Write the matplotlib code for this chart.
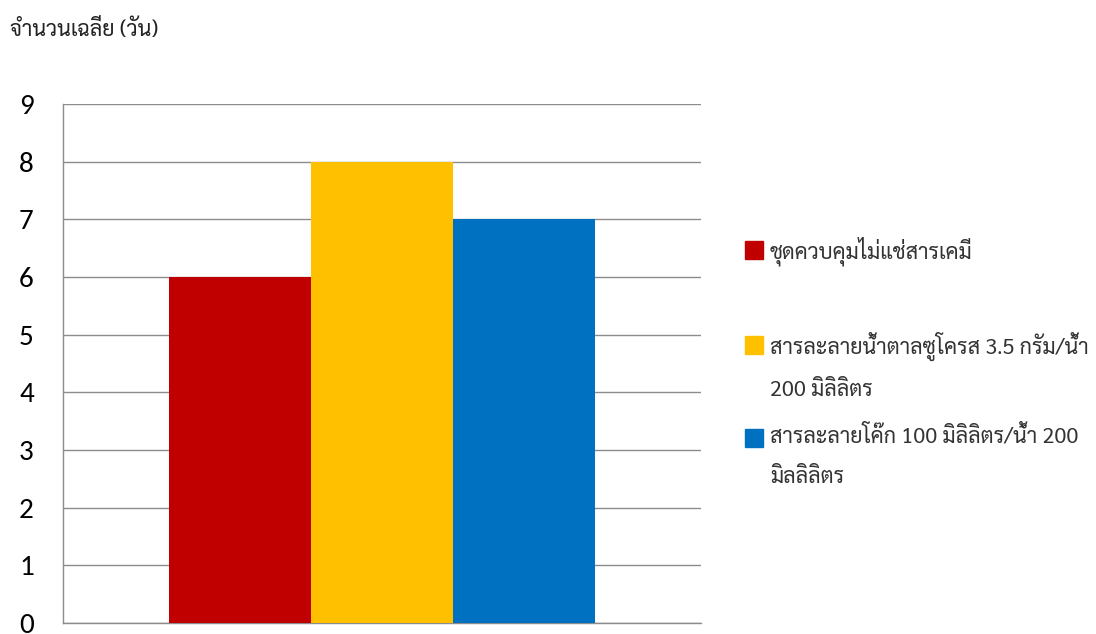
import matplotlib
matplotlib.use('Agg')
import matplotlib.pyplot as plt
import matplotlib.patches as mpatches
import numpy as np

# ── ข้อมูล ─────────────────────────────────────────────────────────────
series_labels = [
    'ชุดควบคุมไม่แช่สารเคมี',
    'สารละลายน้ำตาลซูโครส 3.5 กรัม/น้ำ\n200 มิลิลิตร',
    'สารละลายโค๊ก 100 มิลิลิตร/น้ำ 200\nมิลลิลิตร',
]
mean_days = [6, 8, 7]
bar_colors = ['#C00000', '#FFC000', '#0070C0']
y_ticks = list(range(0, 10))
y_title = 'จำนวนเฉลี่ย (วัน)'

THAI = ['Sarabun', 'Noto Sans Thai Looped', 'Noto Sans Thai', 'DejaVu Sans']
DIGITS = ['Carlito', 'Open Sans', 'DejaVu Sans']

fig = plt.figure(figsize=(10.96, 6.34), dpi=100)
ax = fig.add_axes([63 / 1096, 11 / 634, 638 / 1096, 519 / 634])

width = 0.2226
offsets = (np.arange(len(mean_days)) - 1) * width
for off, val, col in zip(offsets, mean_days, bar_colors):
    ax.bar(off, val, width, color=col, zorder=3)

ax.set_xlim(-0.5, 0.5)
ax.set_ylim(0, 9)
ax.set_yticks(y_ticks)
ax.set_yticklabels([str(t) for t in y_ticks], family=DIGITS, fontsize=21)
ax.set_xticks([])
ax.tick_params(axis='y', length=0, pad=21)
ax.grid(True, axis='y', color='#8c8c8c', linewidth=1.0, zorder=0)
for side in ['top', 'right']:
    ax.spines[side].set_visible(False)
for side in ['left', 'bottom']:
    ax.spines[side].set_color('#8c8c8c')
    ax.spines[side].set_linewidth(1.0)

fig.text(10 / 1096, 1 - 30 / 634, y_title, family=THAI, fontsize=15.5,
         ha='left', va='center', color='#222222')

# คำอธิบายสัญลักษณ์ (วางเอง ให้สี่เหลี่ยมตรงกับบรรทัดแรก)
entry_y = [250, 345, 438]
for lab, col, yy in zip(series_labels, bar_colors, entry_y):
    fig.add_artist(mpatches.Rectangle((745 / 1096, 1 - (yy + 9) / 634), 18 / 1096, 18 / 634,
                                      transform=fig.transFigure, color=col))
    fig.text(770 / 1096, 1 - (yy - 13) / 634, lab, family=THAI, fontsize=15.5,
             ha='left', va='top', linespacing=2.2, color='#333333')

fig.savefig('out.png', dpi=100)
